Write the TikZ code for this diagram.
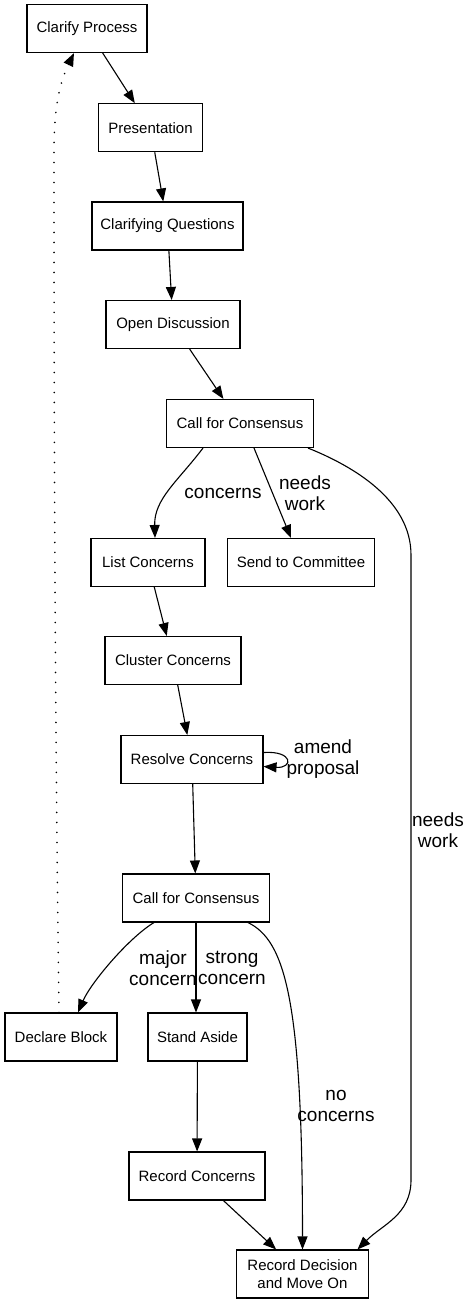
\documentclass[tikz,border=0pt]{standalone}
\usepackage{fontspec}
\setmainfont{Liberation Sans}
\usetikzlibrary{arrows.meta, calc}
\tikzset{
  stepbox/.style  = {draw, line width=1.1pt, minimum height=48pt, inner sep=2pt,
                     align=center, font=\fontsize{15}{18.5}\selectfont},
  flow/.style     = {-{Triangle[length=13pt, width=10pt]}, line width=1.1pt},
  backflow/.style = {flow, line width=1.7pt, line cap=round,
                     dash pattern=on 0.1pt off 9.9pt},
  elbl/.style     = {font=\fontsize{19}{21}\selectfont, align=center, inner sep=0pt},
}
\begin{document}
\begin{tikzpicture}[x=1pt, y=-1pt]
  \useasboundingbox (0,0) rectangle (471,1304);
  % steps of the process
  \node[stepbox, minimum width=120pt] (clarify)    at (87,28.5)    {Clarify Process};
  \node[stepbox, minimum width=104pt] (present)    at (150.5,127.7) {Presentation};
  \node[stepbox, minimum width=151pt] (clarq)      at (167.5,226)  {Clarifying Questions};
  \node[stepbox, minimum width=134pt] (opendisc)   at (173,324.5)  {Open Discussion};
  \node[stepbox, minimum width=147pt] (callA)      at (240,423.5)  {Call for Consensus};
  \node[stepbox, minimum width=114pt] (listc)      at (148,562.5)  {List Concerns};
  \node[stepbox, minimum width=147pt] (sendc)      at (301,562.5)  {Send to Committee};
  \node[stepbox, minimum width=136pt] (clusterc)   at (173,660.5)  {Cluster Concerns};
  \node[stepbox, minimum width=142pt] (resolvec)   at (192,759.5)  {Resolve Concerns};
  \node[stepbox, minimum width=147pt] (callB)      at (196,898)    {Call for Consensus};
  \node[stepbox, minimum width=112pt] (block)      at (61,1037)    {Declare Block};
  \node[stepbox, minimum width=99pt]  (standaside) at (197.5,1037) {Stand Aside};
  \node[stepbox, minimum width=136pt] (recordc)    at (197,1176)   {Record Concerns};
  \node[stepbox, minimum width=132pt] (recordd)    at (302.5,1274) {Record Decision\\and Move On};
  % main line
  \draw[flow] (clarify) -- (present);
  \draw[flow] (present) -- (clarq);
  \draw[flow] (clarq) -- (opendisc);
  \draw[flow] (opendisc) -- (callA);
  \draw[flow] ([xshift=-37pt]callA.south) .. controls +(-25,33) and +(-1,-39) .. ([xshift=7pt]listc.north);
  \draw[flow] ([xshift=14pt]callA.south) -- ([xshift=-10pt]sendc.north);
  \coordinate (wtop) at (411,555);
  \coordinate (wbot) at (411,1180);
  \draw[flow] ([xshift=68pt]callA.south) .. controls +(45,18) and +(0,-55) .. (wtop)
    -- (wbot) .. controls +(0,35) and +(25,-25) .. ([xshift=55pt]recordd.north);
  \draw[flow] (listc) -- (clusterc);
  \draw[flow] (clusterc) -- (resolvec);
  \draw[flow] ([yshift=7pt]resolvec.east) .. controls +(30,-2) and +(30,2) .. ([yshift=-7pt]resolvec.east);
  \draw[flow] (resolvec) -- (callB);
  % outcomes of the second call
  \draw[flow] ([xshift=-42pt]callB.south) .. controls +(-25,15) and +(13,-30) .. ([xshift=17pt]block.north);
  \draw[flow] (callB.south) -- (callB.south |- standaside.north);
  \draw[flow] ([xshift=52pt]callB.south) .. controls +(37,18) and +(0,-250) .. (recordd.north);
  \draw[flow] (standaside) -- (recordc);
  \draw[flow] (recordc) -- (recordd);
  % block sends it back to the start
  \coordinate (dotbend) at (54,150);
  \draw[backflow] ([xshift=-2pt]block.north) .. controls +(-4,-300) and +(0,300) .. (dotbend)
    .. controls +(0,-50) and +(-12,25) .. ([xshift=-13pt]clarify.south);
  % edge labels
  \node[elbl] (lconcerns) at (223,493)   {concerns};
  \node[elbl] (lsend)     at (305,493)   {needs\\work};
  \node[elbl] (lneeds)    at (438,830)   {needs\\work};
  \node[elbl] (lamend)    at (323,759.5) {amend\\proposal};
  \node[elbl] (lmajor)    at (163,968)   {major\\concern};
  \node[elbl] (lstrong)   at (232,968)   {strong\\concern};
  \node[elbl] (lnone)     at (336,1106)  {no\\concerns};
\end{tikzpicture}
\end{document}
